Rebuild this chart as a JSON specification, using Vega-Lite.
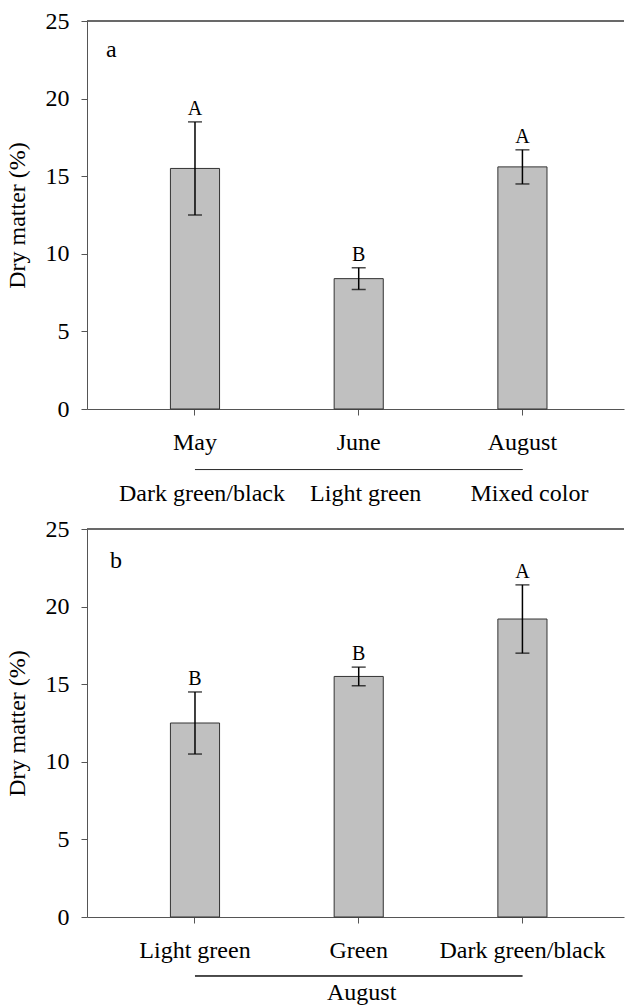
{
  "$schema": "https://vega.github.io/schema/vega-lite/v6.json",
  "background": "white",
  "padding": {"left": 5, "top": 9, "right": 0, "bottom": 0},
  "spacing": 11,
  "config": {
    "view": {"stroke": null},
    "font": "Liberation Serif",
    "text": {"font": "Liberation Serif"},
    "axis": {
      "labelFont": "Liberation Serif",
      "titleFont": "Liberation Serif",
      "labelFontSize": 24,
      "titleFontSize": 24,
      "titleFontWeight": "normal",
      "labelColor": "black",
      "titleColor": "black",
      "domainColor": "#555555",
      "tickColor": "#555555",
      "tickSize": 6,
      "grid": false
    }
  },
  "vconcat": [
    {
      "width": 537,
      "height": 388,
      "data": {"values": [
        {"month": "May", "color": "Dark green/black", "mean": 15.5, "lo": 12.5, "hi": 18.5, "letter": "A"},
        {"month": "June", "color": "Light green", "mean": 8.4, "lo": 7.7, "hi": 9.1, "letter": "B"},
        {"month": "August", "color": "Mixed color", "mean": 15.6, "lo": 14.5, "hi": 16.7, "letter": "A"}
      ]},
      "layer": [
        {"mark": {"type": "rule", "color": "#555555"}, "encoding": {"y": {"datum": 25}}},
        {"mark": {"type": "bar", "fill": "#c0c0c0", "stroke": "#333333", "strokeWidth": 1},
          "encoding": {
            "x": {"field": "month", "type": "nominal", "sort": null,
              "scale": {"paddingInner": 0.7, "paddingOuter": 0.49, "align": 0.52},
              "axis": {"title": null, "labelAngle": 0, "labelPadding": 15}},
            "y": {"field": "mean", "type": "quantitative",
              "scale": {"domain": [0, 25], "nice": false},
              "axis": {"title": "Dry matter (%)", "values": [0, 5, 10, 15, 20, 25], "labelPadding": 12, "titlePadding": 16}}}},
        {"mark": {"type": "rule", "color": "black", "strokeWidth": 1.5},
          "encoding": {"x": {"field": "month", "type": "nominal", "sort": null}, "y": {"field": "lo", "type": "quantitative"}, "y2": {"field": "hi"}}},
        {"mark": {"type": "tick", "orient": "horizontal", "color": "black", "size": 14, "thickness": 1.5},
          "encoding": {"x": {"field": "month", "type": "nominal", "sort": null}, "y": {"field": "lo", "type": "quantitative"}}},
        {"mark": {"type": "tick", "orient": "horizontal", "color": "black", "size": 14, "thickness": 1.5},
          "encoding": {"x": {"field": "month", "type": "nominal", "sort": null}, "y": {"field": "hi", "type": "quantitative"}}},
        {"mark": {"type": "text", "fontSize": 20, "baseline": "alphabetic", "dy": -7, "color": "black"},
          "encoding": {"x": {"field": "month", "type": "nominal", "sort": null}, "y": {"field": "hi", "type": "quantitative"}, "text": {"field": "letter"}}},
        {"mark": {"type": "rule", "color": "#333333", "strokeWidth": 1},
          "encoding": {"x": {"datum": "May"}, "x2": {"datum": "August"}, "y": {"datum": -3.9}}},
        {"mark": {"type": "text", "fontSize": 24, "baseline": "alphabetic", "dx": 7, "color": "black"},
          "encoding": {"x": {"field": "month", "type": "nominal", "sort": null}, "y": {"datum": -5.9}, "text": {"field": "color"}}},
        {"data": {"values": [{"panel": "a"}]},
          "mark": {"type": "text", "fontSize": 24, "baseline": "alphabetic", "align": "left", "dx": -89, "color": "black"},
          "encoding": {"x": {"datum": "May"}, "y": {"datum": 22.68}, "text": {"field": "panel"}}}
      ]
    },
    {
      "width": 537,
      "height": 388,
      "data": {"values": [
        {"cat": "Light green", "mean": 12.5, "lo": 10.5, "hi": 14.5, "letter": "B"},
        {"cat": "Green", "mean": 15.5, "lo": 14.9, "hi": 16.1, "letter": "B"},
        {"cat": "Dark green/black", "mean": 19.2, "lo": 17.0, "hi": 21.4, "letter": "A"}
      ]},
      "layer": [
        {"mark": {"type": "rule", "color": "#555555"}, "encoding": {"y": {"datum": 25}}},
        {"mark": {"type": "bar", "fill": "#c0c0c0", "stroke": "#333333", "strokeWidth": 1},
          "encoding": {
            "x": {"field": "cat", "type": "nominal", "sort": null,
              "scale": {"paddingInner": 0.7, "paddingOuter": 0.49, "align": 0.52},
              "axis": {"title": null, "labelAngle": 0, "labelPadding": 15}},
            "y": {"field": "mean", "type": "quantitative",
              "scale": {"domain": [0, 25], "nice": false},
              "axis": {"title": "Dry matter (%)", "values": [0, 5, 10, 15, 20, 25], "labelPadding": 12, "titlePadding": 16}}}},
        {"mark": {"type": "rule", "color": "black", "strokeWidth": 1.5},
          "encoding": {"x": {"field": "cat", "type": "nominal", "sort": null}, "y": {"field": "lo", "type": "quantitative"}, "y2": {"field": "hi"}}},
        {"mark": {"type": "tick", "orient": "horizontal", "color": "black", "size": 14, "thickness": 1.5},
          "encoding": {"x": {"field": "cat", "type": "nominal", "sort": null}, "y": {"field": "lo", "type": "quantitative"}}},
        {"mark": {"type": "tick", "orient": "horizontal", "color": "black", "size": 14, "thickness": 1.5},
          "encoding": {"x": {"field": "cat", "type": "nominal", "sort": null}, "y": {"field": "hi", "type": "quantitative"}}},
        {"mark": {"type": "text", "fontSize": 20, "baseline": "alphabetic", "dy": -7, "color": "black"},
          "encoding": {"x": {"field": "cat", "type": "nominal", "sort": null}, "y": {"field": "hi", "type": "quantitative"}, "text": {"field": "letter"}}},
        {"mark": {"type": "rule", "color": "#333333", "strokeWidth": 1},
          "encoding": {"x": {"datum": "Light green"}, "x2": {"datum": "Dark green/black"}, "y": {"datum": -3.8}}},
        {"data": {"values": [{"label": "August"}]},
          "mark": {"type": "text", "fontSize": 24, "baseline": "alphabetic", "dx": 3, "color": "black"},
          "encoding": {"x": {"datum": "Green"}, "y": {"datum": -5.37}, "text": {"field": "label"}}},
        {"data": {"values": [{"panel": "b"}]},
          "mark": {"type": "text", "fontSize": 24, "baseline": "alphabetic", "align": "left", "dx": -85, "color": "black"},
          "encoding": {"x": {"datum": "Light green"}, "y": {"datum": 22.49}, "text": {"field": "panel"}}}
      ]
    }
  ]
}
